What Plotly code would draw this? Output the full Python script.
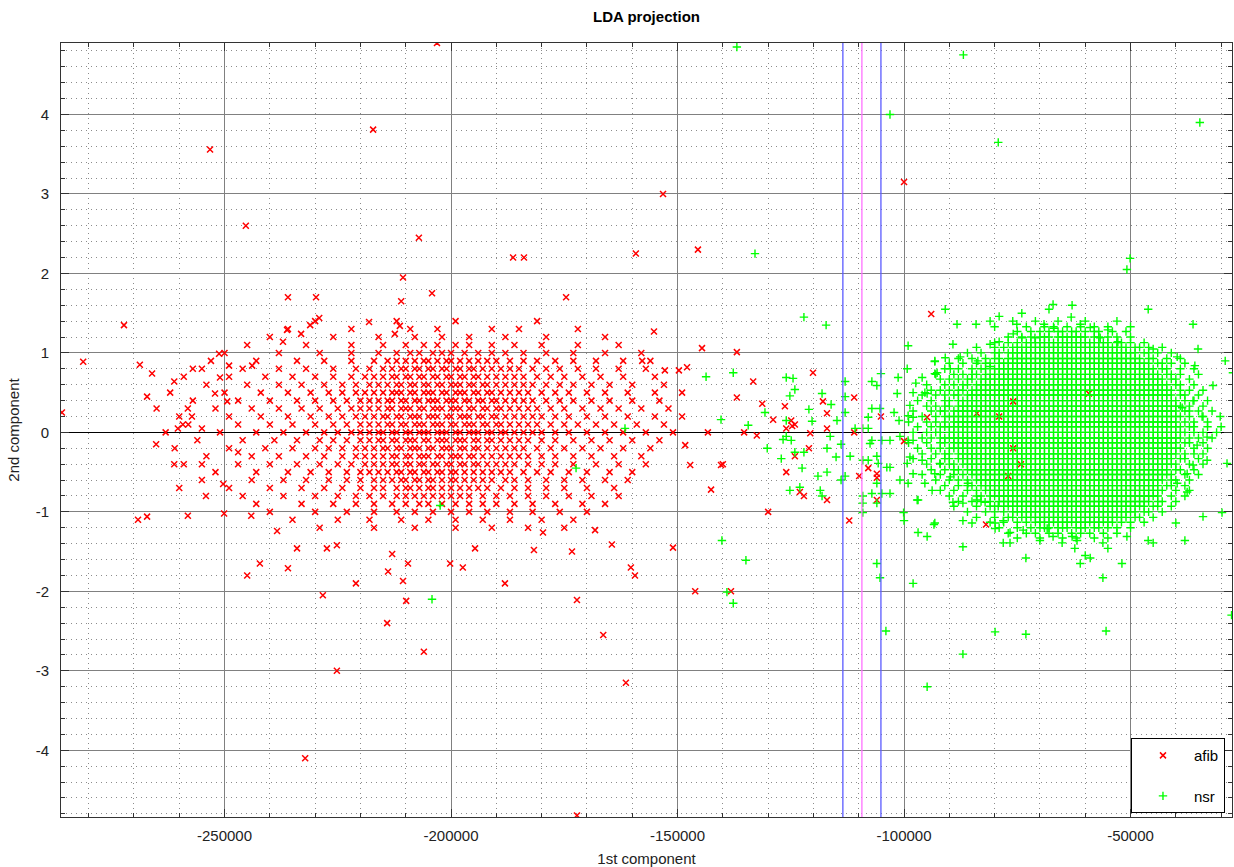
import plotly.graph_objects as go

# ---------------- data (x values in thousands of units, y raw) ----------------
afib_row_y = [1.4, 1.3, 1.2, 1.1, 1.0, 0.9, 0.8, 0.7, 0.6, 0.5, 0.4, 0.3, 0.2, 0.1, 0.0,
              -0.1, -0.2, -0.3, -0.4, -0.5, -0.6, -0.7, -0.8, -0.9, -1.0, -1.1, -1.2]
afib_row_x = [
    [-230, -212, -199, -181],
    [-236, -222, -209, -203, -191, -185, -172],
    [-240, -226, -216, -208, -202, -196, -188, -179, -166],
    [-245, -232, -222, -215, -210, -206, -203, -199, -196, -191, -186, -180, -172, -163],
    [-250, -238, -229, -222, -216, -212, -209, -207, -204, -202, -200, -197, -194, -191, -188, -184, -179, -173, -166, -158],
    [-253, -243, -234, -228, -222, -217, -214, -212, -210, -208, -206, -205, -203, -201, -200, -198, -196, -194, -192, -190, -187, -184, -181, -177, -173, -168, -162, -156],
    [-257, -246, -238, -232, -226, -221, -218, -215, -213, -211, -210, -208, -207, -205, -204, -202, -201, -199, -198, -196, -195, -193, -191, -189, -187, -185, -182, -179, -176, -172, -168, -163, -157],
    [-259, -249, -241, -235, -230, -226, -222, -219, -217, -215, -213, -212, -210, -209, -207, -206, -204, -203, -201, -200, -198, -197, -195, -194, -192, -190, -188, -186, -184, -181, -178, -175, -171, -167, -162, -155],
    [-254, -245, -238, -233, -228, -224, -221, -218, -216, -214, -212, -211, -209, -208, -206, -205, -203, -202, -200, -199, -198, -196, -195, -193, -192, -190, -188, -186, -184, -182, -179, -176, -173, -169, -165, -160, -153],
    [-262, -250, -242, -236, -231, -227, -224, -221, -219, -217, -215, -213, -212, -211, -209, -208, -206, -205, -204, -202, -201, -199, -198, -197, -195, -194, -192, -191, -189, -187, -185, -183, -180, -177, -174, -170, -166, -161, -155, -149],
    [-257, -247, -240, -234, -230, -226, -223, -220, -218, -216, -214, -213, -211, -210, -208, -207, -205, -204, -203, -201, -200, -199, -197, -196, -194, -193, -191, -190, -188, -186, -184, -182, -179, -176, -173, -169, -165, -160, -154],
    [-265, -252, -244, -238, -233, -229, -225, -222, -220, -218, -216, -214, -213, -211, -210, -209, -207, -206, -204, -203, -202, -200, -199, -198, -196, -195, -193, -192, -190, -189, -187, -185, -183, -181, -178, -175, -171, -167, -163, -158, -152],
    [-260, -249, -242, -236, -231, -227, -224, -221, -219, -217, -215, -214, -212, -211, -209, -208, -207, -205, -204, -203, -201, -200, -198, -197, -196, -194, -193, -191, -190, -188, -186, -184, -182, -180, -177, -174, -170, -166, -161, -155, -149],
    [-258, -247, -240, -235, -230, -226, -223, -220, -218, -216, -214, -213, -211, -210, -208, -207, -206, -204, -203, -202, -200, -199, -197, -196, -195, -193, -192, -190, -189, -187, -185, -183, -181, -178, -175, -172, -168, -164, -159, -153],
    [-263, -251, -243, -237, -232, -228, -225, -222, -220, -218, -216, -215, -213, -212, -210, -209, -207, -206, -205, -203, -202, -201, -199, -198, -196, -195, -194, -192, -191, -189, -188, -186, -184, -182, -180, -177, -174, -170, -166, -162, -157, -151],
    [-256, -246, -239, -234, -229, -226, -223, -220, -218, -216, -215, -213, -212, -210, -209, -208, -206, -205, -203, -202, -201, -199, -198, -197, -195, -194, -192, -191, -189, -187, -185, -183, -180, -177, -173, -169, -165, -160, -154],
    [-261, -249, -241, -235, -230, -227, -224, -221, -219, -217, -215, -214, -212, -211, -209, -208, -207, -205, -204, -202, -201, -200, -198, -197, -195, -194, -192, -190, -188, -186, -184, -181, -178, -175, -171, -167, -162, -156],
    [-254, -244, -238, -232, -228, -224, -221, -219, -217, -215, -213, -212, -210, -209, -207, -206, -205, -203, -202, -200, -199, -198, -196, -195, -193, -191, -189, -187, -185, -183, -180, -177, -173, -169, -164, -158],
    [-259, -247, -240, -234, -229, -225, -222, -219, -217, -215, -213, -212, -210, -209, -207, -206, -204, -203, -201, -200, -198, -197, -195, -194, -192, -190, -188, -186, -183, -180, -177, -173, -168, -163, -157],
    [-252, -243, -236, -231, -227, -223, -220, -218, -216, -214, -212, -211, -209, -208, -206, -205, -203, -202, -200, -199, -197, -195, -193, -191, -189, -187, -184, -181, -178, -174, -170, -165, -160],
    [-255, -244, -237, -232, -227, -223, -220, -217, -215, -213, -211, -210, -208, -207, -205, -204, -202, -200, -199, -197, -195, -193, -191, -188, -186, -183, -179, -175, -171, -166, -161],
    [-249, -240, -233, -228, -224, -220, -217, -215, -212, -210, -209, -207, -205, -204, -202, -200, -198, -196, -194, -192, -189, -186, -183, -179, -175, -170, -164],
    [-246, -237, -230, -225, -221, -218, -215, -212, -210, -208, -206, -204, -202, -200, -198, -196, -193, -190, -187, -183, -179, -174, -169, -163],
    [-243, -233, -226, -221, -217, -213, -210, -207, -205, -202, -199, -196, -193, -190, -186, -182, -177, -171, -166],
    [-240, -230, -223, -217, -212, -208, -204, -200, -196, -192, -187, -182, -176, -170],
    [-235, -225, -218, -211, -205, -199, -193, -187, -180, -173],
    [-229, -217, -208, -199, -191, -183, -175],
]
afib_extra_x = [-203.1, -253.2, -217.2, -153.2, -245.3, -207.1, -145.5, -159.2, -186.3, -183.9,
                -100.0, -210.6, -272.2, -281.2, -285.9, -229.8, -236.0, -204.2, -174.6, -211.0,
                -229.1, -231.1, -233.1, -218.1, -211.3, -212.4, -236.2, -237.1, -251.2, -243.9,
                -249.0, -255.0, -266.0, -268.7, -261.1, -251.0, -267.1, -252.1, -249.4, -258.1,
                -257.2, -259.2, -260.3, -255.0, -265.1, -247.0, -261.1, -255.0, -260.0, -254.1,
                -250.3, -269.1, -267.1, -258.1, -250.1, -244.1, -245.0, -242.2, -236.0, -234.0,
                -238.4, -228.3, -227.4, -225.2, -221.0, -225.2, -232.2, -214.1, -213.9, -209.5,
                -209.9, -206.0, -213.0, -210.6, -197.4, -200.2, -194.7, -188.1, -181.7, -179.7,
                -173.3, -172.2, -172.2, -160.3, -159.4, -166.4, -161.4, -164.5, -168.2, -151.0,
                -146.1, -138.2, -140.4, -130.0, -136.9, -144.6, -136.9, -149.7, -147.9, -128.9,
                -132.5, -135.3, -148.3, -147.2, -143.3, -133.3, -131.3, -126.3, -155.2, -152.8,
                -157.8, -120.7, -124.7, -142.6, -140.0, -94.0, -117.9, -111.0, -117.0, -105.1,
                -117.0, -111.0, -100.0, -94.9, -83.9, -79.0, -75.9, -59.2, -75.9, -74.2,
                -77.0, -107.9, -109.9, -106.0, -106.0, -106.0, -117.0, -112.1, -81.9, -120.1,
                -124.9, -124.1, -126.0, -121.0, -124.1, -126.0, -123.0, -122.1]
afib_extra_y = [4.90, 3.56, 3.81, 3.00, 2.60, 2.45, 2.30, 2.25, 2.20, 2.20,
                3.15, 1.95, 1.35, 0.89, 0.25, 1.70, 1.70, 1.75, 1.70, 1.65,
                1.44, 1.35, 1.24, 1.39, 1.34, 1.24, 1.29, 1.14, 0.99, 0.84,
                0.84, 0.80, 0.74, 0.85, 0.64, 0.69, 0.45, 0.49, 0.39, 0.30,
                0.20, 0.10, 0.05, 0.05, -0.15, -0.25, -0.40, -0.40, -0.70, -0.80,
                -0.65, -1.10, -1.06, -1.05, -1.02, -1.05, -1.80, -1.65, -1.71, -1.46,
                -1.24, -2.05, -1.46, -1.42, -1.90, -3.00, -4.10, -2.40, -1.75, -1.65,
                -2.12, -2.76, -1.53, -1.87, -1.70, -1.65, -1.46, -1.90, -1.48, -1.26,
                -1.50, -2.11, -4.82, -1.70, -1.80, -2.55, -3.15, -1.41, -1.23, -1.45,
                -2.00, -2.00, -0.41, -1.00, 0.44, 1.06, 1.01, 0.78, 0.82, 0.16,
                -0.04, 0.00, -0.16, -0.41, 0.00, 0.64, 0.36, 0.33, 1.27, 0.78,
                0.90, -0.01, 0.08, -0.72, -0.40, 1.49, 0.39, 0.44, 0.24, 0.20,
                0.05, 0.00, -0.11, 0.19, 0.24, 0.20, 0.39, 0.49, -0.20, -0.40,
                -0.55, -0.45, -0.55, -0.52, -0.57, -0.85, -0.85, -1.11, -1.16, 0.75,
                0.15, 0.10, 0.05, -0.20, -0.30, -0.50, -0.75, -0.80]

nsr_row_y = [1.4, 1.33, 1.27, 1.2, 1.13, 1.07, 1.0, 0.93, 0.87, 0.8, 0.73, 0.67, 0.6, 0.53,
             0.47, 0.4, 0.33, 0.27, 0.2, 0.13, 0.07, 0.0, -0.07, -0.13, -0.2, -0.27, -0.33,
             -0.4, -0.47, -0.53, -0.6, -0.67, -0.73, -0.8, -0.87, -0.93, -1.0, -1.07, -1.13,
             -1.2, -1.27, -1.33]
nsr_row_x = [
    [-76, -71, -66, -60, -53],
    [-80, -73, -69, -67, -64, -61, -58, -55, -50],
    [-75, -72, -70, -68, -66, -65, -63, -62, -60, -58, -57, -54, -51],
    [-77, -74, -72, -70, -69, -68, -66, -65, -64, -63, -62, -61, -60, -58, -57, -55, -53, -50],
    [-80, -77, -75, -73, -72, -71, -70, -69, -68, -67, -66, -65, -64, -63, -62, -61, -60, -59, -58, -57, -56, -55, -53, -52, -50, -47],
    [-84, -80, -78, -76, -75, -74, -73, -72, -71, -70, -69, -68, -67, -66, -65, -64, -63, -62, -61, -60, -59, -58, -57, -56, -55, -54, -53, -52, -51, -49, -48, -46, -43],
    [-86, -83, -80, -79, -77, -76, -75, -74, -73, -72, -71, -70, -69, -68, -67, -66, -65, -64, -63, -62, -61, -60, -59, -58, -57, -56, -55, -54, -53, -52, -51, -50, -49, -47, -46, -44, -41],
    [-88, -85, -82, -80, -79, -77, -76, -75, -74, -73, -72, -71, -70, -69, -68, -67, -66, -65, -64, -63, -62, -61, -60, -59, -58, -57, -56, -55, -54, -53, -52, -51, -50, -49, -48, -46, -45, -42, -39],
    [-90, -87, -84, -82, -81, -79, -78, -77, -76, -75, -74, -73, -72, -71, -70, -69, -68, -67, -66, -65, -64, -63, -62, -61, -60, -59, -58, -57, -56, -55, -54, -53, -52, -51, -50, -49, -48, -47, -46, -44, -43, -41, -38],
    [-91, -88, -85, -83, -82, -80, -79, -78, -77, -76, -75, -74, -73, -72, -71, -70, -69, -68, -67, -66, -65, -64, -63, -62, -61, -60, -59, -58, -57, -56, -55, -54, -53, -52, -51, -50, -49, -48, -47, -46, -45, -43, -42, -39, -36],
    [-93, -89, -87, -85, -84, -82, -81, -80, -79, -78, -77, -76, -75, -74, -73, -72, -71, -70, -69, -68, -67, -66, -65, -64, -63, -62, -61, -60, -59, -58, -57, -56, -55, -54, -53, -52, -51, -50, -49, -48, -47, -46, -45, -44, -42, -41, -39, -35],
    [-92, -90, -88, -86, -85, -83, -82, -81, -80, -79, -78, -77, -76, -75, -74, -73, -72, -71, -70, -69, -68, -67, -66, -65, -64, -63, -62, -61, -60, -59, -58, -57, -56, -55, -54, -53, -52, -51, -50, -49, -48, -47, -46, -45, -44, -43, -41, -40, -37],
    [-95, -91, -89, -87, -86, -84, -83, -82, -81, -80, -79, -78, -77, -76, -75, -74, -73, -72, -71, -70, -69, -68, -67, -66, -65, -64, -63, -62, -61, -60, -59, -58, -57, -56, -55, -54, -53, -52, -51, -50, -49, -48, -47, -46, -45, -44, -43, -42, -40, -39, -36],
    [-94, -92, -90, -88, -87, -85, -84, -83, -82, -81, -80, -79, -78, -77, -76, -75, -74, -73, -72, -71, -70, -69, -68, -67, -66, -65, -64, -63, -62, -61, -60, -59, -58, -57, -56, -55, -54, -53, -52, -51, -50, -49, -48, -47, -46, -45, -44, -43, -42, -41, -39, -37, -34],
    [-96, -93, -91, -89, -88, -86, -85, -84, -83, -82, -81, -80, -79, -78, -77, -76, -75, -74, -73, -72, -71, -70, -69, -68, -67, -66, -65, -64, -63, -62, -61, -60, -59, -58, -57, -56, -55, -54, -53, -52, -51, -50, -49, -48, -47, -46, -45, -44, -43, -42, -41, -39, -38, -35],
    [-97, -94, -91, -90, -88, -87, -86, -85, -84, -83, -82, -81, -80, -79, -78, -77, -76, -75, -74, -73, -72, -71, -70, -69, -68, -67, -66, -65, -64, -63, -62, -61, -60, -59, -58, -57, -56, -55, -54, -53, -52, -51, -50, -49, -48, -47, -46, -45, -44, -43, -42, -41, -40, -38, -36, -33],
    [-95, -93, -91, -90, -88, -87, -86, -85, -84, -83, -82, -81, -80, -79, -78, -77, -76, -75, -74, -73, -72, -71, -70, -69, -68, -67, -66, -65, -64, -63, -62, -61, -60, -59, -58, -57, -56, -55, -54, -53, -52, -51, -50, -49, -48, -47, -46, -45, -44, -43, -42, -41, -40, -39, -37, -34],
    [-98, -94, -92, -91, -89, -88, -87, -86, -85, -84, -83, -82, -81, -80, -79, -78, -77, -76, -75, -74, -73, -72, -71, -70, -69, -68, -67, -66, -65, -64, -63, -62, -61, -60, -59, -58, -57, -56, -55, -54, -53, -52, -51, -50, -49, -48, -47, -46, -45, -44, -43, -42, -41, -40, -38, -37, -35, -32],
    [-96, -93, -91, -90, -89, -88, -87, -86, -85, -84, -83, -82, -81, -80, -79, -78, -77, -76, -75, -74, -73, -72, -71, -70, -69, -68, -67, -66, -65, -64, -63, -62, -61, -60, -59, -58, -57, -56, -55, -54, -53, -52, -51, -50, -49, -48, -47, -46, -45, -44, -43, -42, -41, -40, -39, -37, -34],
    [-99, -95, -93, -91, -89, -88, -87, -86, -85, -84, -83, -82, -81, -80, -79, -78, -77, -76, -75, -74, -73, -72, -71, -70, -69, -68, -67, -66, -65, -64, -63, -62, -61, -60, -59, -58, -57, -56, -55, -54, -53, -52, -51, -50, -49, -48, -47, -46, -45, -44, -43, -42, -41, -40, -38, -36, -33],
    [-97, -94, -92, -91, -90, -89, -88, -87, -86, -85, -84, -83, -82, -81, -80, -79, -78, -77, -76, -75, -74, -73, -72, -71, -70, -69, -68, -67, -66, -65, -64, -63, -62, -61, -60, -59, -58, -57, -56, -55, -54, -53, -52, -51, -50, -49, -48, -47, -46, -45, -44, -43, -42, -41, -40, -39, -37, -36, -33, -30],
    [-98, -95, -93, -92, -90, -89, -88, -87, -86, -85, -84, -83, -82, -81, -80, -79, -78, -77, -76, -75, -74, -73, -72, -71, -70, -69, -68, -67, -66, -65, -64, -63, -62, -61, -60, -59, -58, -57, -56, -55, -54, -53, -52, -51, -50, -49, -48, -47, -46, -45, -44, -43, -42, -41, -40, -39, -38, -36, -34, -31],
    [-96, -94, -92, -91, -90, -89, -88, -87, -86, -85, -84, -83, -82, -81, -80, -79, -78, -77, -76, -75, -74, -73, -72, -71, -70, -69, -68, -67, -66, -65, -64, -63, -62, -61, -60, -59, -58, -57, -56, -55, -54, -53, -52, -51, -50, -49, -48, -47, -46, -45, -44, -43, -42, -41, -40, -39, -37, -35, -32],
    [-99, -95, -92, -91, -89, -88, -87, -86, -85, -84, -83, -82, -81, -80, -79, -78, -77, -76, -75, -74, -73, -72, -71, -70, -69, -68, -67, -66, -65, -64, -63, -62, -61, -60, -59, -58, -57, -56, -55, -54, -53, -52, -51, -50, -49, -48, -47, -46, -45, -44, -43, -42, -41, -40, -38, -37, -34],
    [-97, -94, -92, -90, -89, -88, -87, -86, -85, -84, -83, -82, -81, -80, -79, -78, -77, -76, -75, -74, -73, -72, -71, -70, -69, -68, -67, -66, -65, -64, -63, -62, -61, -60, -59, -58, -57, -56, -55, -54, -53, -52, -51, -50, -49, -48, -47, -46, -45, -44, -43, -42, -41, -40, -39, -36, -33],
    [-96, -93, -91, -90, -88, -87, -86, -85, -84, -83, -82, -81, -80, -79, -78, -77, -76, -75, -74, -73, -72, -71, -70, -69, -68, -67, -66, -65, -64, -63, -62, -61, -60, -59, -58, -57, -56, -55, -54, -53, -52, -51, -50, -49, -48, -47, -46, -45, -44, -43, -42, -41, -40, -38, -36, -34],
    [-98, -94, -91, -90, -88, -87, -86, -85, -84, -83, -82, -81, -80, -79, -78, -77, -76, -75, -74, -73, -72, -71, -70, -69, -68, -67, -66, -65, -64, -63, -62, -61, -60, -59, -58, -57, -56, -55, -54, -53, -52, -51, -50, -49, -48, -47, -46, -45, -44, -43, -42, -41, -39, -38, -35],
    [-95, -92, -90, -89, -87, -86, -85, -84, -83, -82, -81, -80, -79, -78, -77, -76, -75, -74, -73, -72, -71, -70, -69, -68, -67, -66, -65, -64, -63, -62, -61, -60, -59, -58, -57, -56, -55, -54, -53, -52, -51, -50, -49, -48, -47, -46, -45, -44, -43, -42, -41, -40, -37, -34],
    [-94, -91, -89, -88, -86, -85, -84, -83, -82, -81, -80, -79, -78, -77, -76, -75, -74, -73, -72, -71, -70, -69, -68, -67, -66, -65, -64, -63, -62, -61, -60, -59, -58, -57, -56, -55, -54, -53, -52, -51, -50, -49, -48, -47, -46, -45, -44, -43, -42, -40, -39, -36],
    [-96, -92, -89, -87, -85, -84, -83, -82, -81, -80, -79, -78, -77, -76, -75, -74, -73, -72, -71, -70, -69, -68, -67, -66, -65, -64, -63, -62, -61, -60, -59, -58, -57, -56, -55, -54, -53, -52, -51, -50, -49, -48, -47, -46, -45, -44, -43, -42, -41, -38, -35],
    [-93, -90, -88, -86, -84, -83, -82, -81, -80, -79, -78, -77, -76, -75, -74, -73, -72, -71, -70, -69, -68, -67, -66, -65, -64, -63, -62, -61, -60, -59, -58, -57, -56, -55, -54, -53, -52, -51, -50, -49, -48, -47, -46, -45, -44, -43, -41, -40, -37],
    [-91, -88, -86, -85, -83, -82, -81, -80, -79, -78, -77, -76, -75, -74, -73, -72, -71, -70, -69, -68, -67, -66, -65, -64, -63, -62, -61, -60, -59, -58, -57, -56, -55, -54, -53, -52, -51, -50, -49, -48, -47, -46, -45, -44, -42, -41, -38],
    [-92, -89, -86, -84, -82, -81, -80, -79, -78, -77, -76, -75, -74, -73, -72, -71, -70, -69, -68, -67, -66, -65, -64, -63, -62, -61, -60, -59, -58, -57, -56, -55, -54, -53, -52, -51, -50, -49, -48, -47, -46, -45, -44, -43, -40, -37],
    [-90, -87, -84, -83, -81, -80, -79, -78, -77, -76, -75, -74, -73, -72, -71, -70, -69, -68, -67, -66, -65, -64, -63, -62, -61, -60, -59, -58, -57, -56, -55, -54, -53, -52, -51, -50, -49, -48, -47, -46, -45, -44, -41, -38],
    [-88, -85, -83, -81, -79, -78, -77, -76, -75, -74, -73, -72, -71, -70, -69, -68, -67, -66, -65, -64, -63, -62, -61, -60, -59, -58, -57, -56, -55, -54, -53, -52, -51, -50, -49, -48, -47, -46, -44, -43, -40],
    [-89, -84, -81, -80, -78, -77, -76, -75, -74, -73, -72, -71, -70, -69, -68, -67, -66, -65, -64, -63, -62, -61, -60, -59, -58, -57, -56, -55, -54, -53, -52, -51, -50, -49, -48, -47, -45, -44, -41],
    [-86, -82, -80, -78, -76, -75, -74, -73, -72, -71, -70, -69, -68, -67, -66, -65, -64, -63, -62, -61, -60, -59, -58, -57, -56, -55, -54, -53, -52, -51, -50, -49, -47, -46, -43],
    [-84, -80, -77, -76, -74, -73, -72, -71, -70, -69, -68, -67, -66, -65, -64, -63, -62, -61, -60, -59, -58, -57, -56, -55, -54, -53, -52, -51, -49, -48, -45],
    [-81, -78, -75, -73, -71, -70, -69, -68, -67, -66, -65, -64, -63, -62, -61, -60, -59, -58, -57, -56, -55, -54, -52, -50, -47],
    [-79, -75, -72, -70, -69, -68, -66, -65, -64, -62, -61, -60, -58, -57, -55, -53, -50],
    [-77, -73, -71, -68, -66, -63, -61, -59, -56, -53],
    [-75, -70, -65, -62, -58, -55],
]
nsr_extra_x = [-136.9, -103.1, -86.9, -34.7, -79.2, -132.9, -50.8, -50.1, -122.1, -117.2,
               -99.1, -29.1, -27.4, -27.7, -55.4, -73.1, -79.9, -87.0, -94.9, -98.0,
               -105.3, -104.0, -106.0, -140.2, -134.9, -139.1, -137.7, -204.2, -202.4, -172.4,
               -161.6, -143.7, -137.7, -140.4, -134.4, -130.7, -124.5, -125.2, -121.0, -120.3,
               -126.7, -127.1, -124.1, -130.2, -122.5, -125.2, -118.5, -113.0,
               -93.2, -93.2, -96.0, -101.3, -105.1, -107.1, -106.0, -101.5, -97.4, -94.9,
               -126.0, -124.1, -118.1, -116.1, -113.0, -113.0, -114.8, -126.0, -107.9, -107.1,
               -105.3, -102.2, -101.1, -99.1, -107.9, -109.1, -110.8, -126.0, -124.9, -116.3,
               -113.9, -107.5, -107.1, -104.9, -103.1, -100.9, -99.1, -117.0, -122.1, -115.0,
               -111.9, -109.1, -107.9, -106.0, -105.7, -103.8, -103.1, -99.3, -117.0, -119.0,
               -113.0, -113.9, -106.0, -100.9, -99.1, -107.1, -104.9, -103.1, -109.1, -118.1,
               -123.0, -109.1, -106.0, -97.1, -109.1, -100.1, -100.0, -93.4,
               -67.1, -62.9, -68.0, -74.0, -63.1, -46.1, -90.9, -79.0, -81.0, -84.1,
               -88.3, -75.1, -69.1, -66.9, -61.1, -58.9, -55.0, -36.2, -75.9, -74.0,
               -71.1, -79.0, -81.0, -89.2, -56.7, -52.8, -45.0, -35.1, -39.7, -35.8,
               -31.8, -34.2, -30.2, -38.6, -36.2, -93.2, -90.9, -87.6, -83.7, -81.0,
               -89.8, -92.7, -99.3, -95.4, -98.0, -98.7, -98.0,
               -96.9, -93.2, -96.9, -94.9, -87.0, -87.0, -85.0, -79.9, -79.9, -78.1,
               -76.6, -76.6, -78.1, -73.7, -73.1, -70.0, -68.4, -67.1, -65.1, -62.9,
               -61.8, -62.3, -60.0, -61.1, -58.9, -56.1, -55.0, -51.9, -56.1, -50.8,
               -46.1, -45.0, -38.0, -40.0, -34.0, -29.8, -28.7, -33.1, -36.2, -37.5,
               -39.7, -37.5, -33.1, -35.3, -98.0, -98.7, -96.0, -98.0, -95.4, -93.8,
               -93.2, -92.1, -89.8, -89.2, -87.0, -83.9, -82.1, -79.2, -85.9]
nsr_extra_y = [4.85, 4.00, 4.75, 3.90, 3.65, 2.25, 2.05, 2.19, 1.45, 1.35,
               1.09, 0.90, 0.75, -2.30, -2.50, -2.54, -2.51, -2.79, -3.20, -1.90,
               -1.83, -2.50, -1.65, -1.36, -1.61, -2.01, -2.15, -2.10, -0.92, -0.45,
               0.05, 0.70, 0.75, 0.16, 0.09, 0.25, 0.68, 0.46, 0.29, 0.14,
               -0.09, -0.33, -0.25, -0.20, -0.45, -0.73, -0.73, 0.64,
               0.89, 0.74, 0.69, 0.69, 0.74, 0.64, 0.59, 0.49, 0.62, 0.49,
               0.69, 0.54, 0.49, 0.35, 0.45, 0.25, 0.15, 0.15, 0.19, 0.30,
               0.30, 0.25, 0.15, 0.21, 0.05, 0.05, 0.05, -0.05, -0.10, -0.05,
               -0.15, -0.14, -0.10, -0.10, -0.10, -0.05, -0.10, -0.20, -0.25, -0.31,
               -0.30, -0.35, -0.35, -0.30, -0.39, -0.44, -0.44, -0.39, -0.50, -0.55,
               -0.55, -0.60, -0.64, -0.60, -0.64, -0.77, -0.77, -0.77, -0.80, -0.80,
               -0.69, -0.89, -0.89, -0.85, -1.01, -1.01, -1.11, -1.16,
               1.61, 1.60, 1.55, 1.50, 1.45, 1.55, 1.55, 1.46, 1.40, 1.36,
               1.36, 1.36, 1.36, 1.31, 1.36, 1.32, 1.29, 1.36, 1.24, 1.19,
               1.19, 1.14, 1.11, 1.11, 1.19, 1.14, 1.05, 1.05, 0.95, 0.84,
               0.59, 0.20, 0.20, 0.31, 0.40, 0.90, 0.94, 0.95, 0.90, 0.83,
               0.80, 0.75, 0.80, 0.50, 0.50, 0.34, 0.19,
               -0.85, -1.14, -1.26, -1.31, -1.11, -1.44, -1.14, -1.14, -1.21, -1.11,
               -1.26, -1.39, -1.39, -1.23, -1.58, -1.36, -1.21, -1.31, -1.39, -1.31,
               -1.36, -1.46, -1.55, -1.65, -1.58, -1.39, -1.46, -1.65, -1.83, -1.31,
               -1.36, -1.39, -1.36, -1.14, -1.06, -1.01, -0.39, -0.35, -0.41, -0.52,
               -0.64, -0.75, -0.06, -0.16, -0.10, -0.31, -0.35, -0.52, -0.64, -0.73,
               -0.52, -0.39, -0.56, -0.88, -0.89, -0.85, -0.88, -0.93, -0.64]

boundary_x = [-113500, -109300, -105100]
boundary_colors = ["#5a5aff", "#ff70ff", "#5a5aff"]

x_tick_vals = [-250000, -200000, -150000, -100000, -50000]
x_tick_text = ["-250000", "-200000", "-150000", "-100000", "-50000"]
y_tick_vals = [-4, -3, -2, -1, 0, 1, 2, 3, 4]
y_tick_text = ["-4", "-3", "-2", "-1", "0", "1", "2", "3", "4"]
x_range = [-286100, -27600]
y_range = [-4.84, 4.90]

# ---------------- assemble ----------------
afib_x, afib_y = [], []
for yv, row in zip(afib_row_y, afib_row_x):
    for xv in row:
        afib_x.append(xv * 1000)
        afib_y.append(yv)
afib_x += [v * 1000 for v in afib_extra_x]
afib_y += afib_extra_y

nsr_x, nsr_y = [], []
for yv, row in zip(nsr_row_y, nsr_row_x):
    for xv in row:
        nsr_x.append(xv * 1000)
        nsr_y.append(yv)
nsr_x += [v * 1000 for v in nsr_extra_x]
nsr_y += nsr_extra_y

FONT = "Liberation Sans, Arial, sans-serif"
FS = 15

fig = go.Figure()
fig.add_trace(go.Scatter(
    x=afib_x, y=afib_y, mode="markers", name="afib",
    legendgroup="afib", legendrank=1,
    marker=dict(symbol="x-thin", size=6, color="#ff0000",
                line=dict(color="#ff0000", width=1.5)),
))
fig.add_trace(go.Scatter(
    x=nsr_x, y=nsr_y, mode="markers", name="nsr",
    legendgroup="nsr", legendrank=2,
    marker=dict(symbol="cross-thin", size=6, color="#00ff00",
                line=dict(color="#00ff00", width=1.4)),
))

for bx, bc in zip(boundary_x, boundary_colors):
    fig.add_shape(type="line", xref="x", yref="paper", x0=bx, x1=bx, y0=0, y1=1,
                  line=dict(color=bc, width=1.3), layer="above")

axis_common = dict(
    showline=True, linecolor="#333333", linewidth=1, mirror="allticks",
    ticks="inside", ticklen=8, tickcolor="#333333",
    showgrid=True, gridcolor="#808080", gridwidth=1,
    tickfont=dict(family=FONT, size=FS, color="#222222"),
)

fig.update_layout(
    width=1234, height=867,
    margin=dict(l=61, r=2, t=43, b=50, autoexpand=False),
    paper_bgcolor="white", plot_bgcolor="white",
    font=dict(family=FONT, size=FS, color="#222222"),
    title=dict(text="<b>LDA projection</b>", x=0.5, xref="paper", xanchor="center",
               y=1 - 17 / 867, yref="container", yanchor="middle",
               font=dict(family=FONT, size=FS, color="#000000")),
    xaxis=dict(
        range=x_range, tickmode="array", tickvals=x_tick_vals, ticktext=x_tick_text,
        zeroline=False, ticklabelstandoff=5, automargin=False,
        minor=dict(tick0=0, dtick=10000, ticks="inside", ticklen=4, tickcolor="#333333",
                   showgrid=True, gridcolor="#8c8c8c", griddash="1px,4px", gridwidth=1),
        title=dict(text="1st component", standoff=10,
                   font=dict(family=FONT, size=FS, color="#222222")),
        **axis_common,
    ),
    yaxis=dict(
        range=y_range, tickmode="array", tickvals=y_tick_vals, ticktext=y_tick_text,
        zeroline=True, zerolinecolor="#000000", zerolinewidth=1,
        ticklabelstandoff=8, automargin=False,
        minor=dict(tick0=0, dtick=0.2, ticks="inside", ticklen=4, tickcolor="#333333",
                   showgrid=True, gridcolor="#8c8c8c", griddash="1px,4px", gridwidth=1),
        title=dict(text="2nd component", standoff=12,
                   font=dict(family=FONT, size=FS, color="#222222")),
        **axis_common,
    ),
    legend=dict(
        x=0.994, xanchor="right", y=0.005, yanchor="bottom",
        bgcolor="white", bordercolor="#000000", borderwidth=1,
        traceorder="grouped", tracegroupgap=18, itemwidth=52,
        font=dict(family=FONT, size=FS, color="#000000"),
    ),
    showlegend=True,
)

fig.write_html("out.html")
